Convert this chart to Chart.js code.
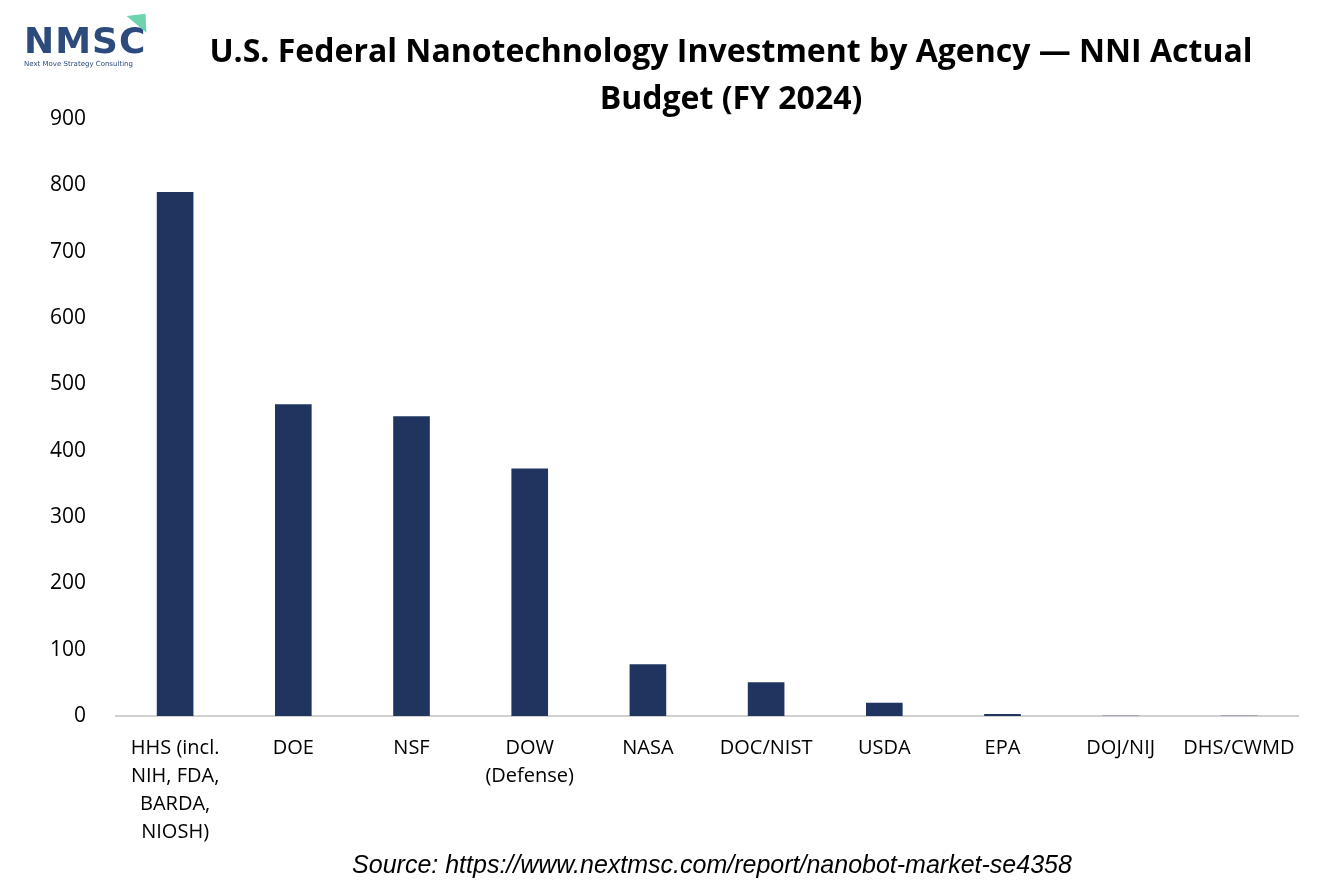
<!DOCTYPE html>
<html>
<head>
<meta charset="utf-8">
<script src="https://cdn.jsdelivr.net/npm/chart.js@4"></script>
<style>
  body { margin: 0; background: #fff; }
  #wrap { position: relative; width: 1334px; height: 889px; }
  #logo { position: absolute; left: 24px; top: 22px; font-family: "DejaVu Sans", sans-serif; }
  #logo .big { font-size: 36px; font-weight: bold; color: #2c4a7c; letter-spacing: 1px; line-height: 38px; }
  #logo .small { font-size: 7px; color: #2c4a7c; }
  #logo .tri { position: absolute; left: 104px; top: -10px; width: 0; height: 0;
    border-left: 13px solid transparent; border-right: 13px solid transparent; border-bottom: 14px solid #6fd3ae;
    transform: rotate(40deg); }
  #title { position: absolute; left: 190px; width: 1082px; top: 26px; text-align: center;
    font-family: "Open Sans", sans-serif; font-weight: bold; font-size: 32px; line-height: 47px; color: #000; }
  #source { position: absolute; left: 0; width: 1424px; top: 850px; text-align: center;
    font-family: "Liberation Sans", Arial, sans-serif; font-style: italic; font-size: 25px; color: #000; }
</style>
</head>
<body>
<div id="wrap">
  <canvas id="budgetChart" width="1334" height="889"></canvas>
  <div id="logo"><div class="tri"></div><div class="big">NMSC</div><div class="small">Next Move Strategy Consulting</div></div>
  <div id="title">U.S. Federal Nanotechnology Investment by Agency — NNI Actual<br>Budget (FY 2024)</div>
  <div id="source">Source: https://www.nextmsc.com/report/nanobot-market-se4358</div>
</div>
<script>
"use strict";

const agencies = [
  ["HHS (incl.", "NIH, FDA,", "BARDA,", "NIOSH)"],
  "DOE",
  "NSF",
  ["DOW", "(Defense)"],
  "NASA",
  "DOC/NIST",
  "USDA",
  "EPA",
  "DOJ/NIJ",
  "DHS/CWMD"
];
const budget = [790, 470, 452, 373, 78, 51, 20, 3, 0.4, 0.2];
const yTicks = [0, 100, 200, 300, 400, 500, 600, 700, 800, 900];

const ctx = document.getElementById("budgetChart").getContext("2d");

new Chart(ctx, {
  type: "bar",
  data: {
    labels: agencies,
    datasets: [{
      data: budget,
      backgroundColor: "#1f3560",
      barPercentage: 0.62,
      categoryPercentage: 0.5
    }]
  },
  options: {
    responsive: false,
    animation: false,
    layout: { padding: { left: 28, right: 36, top: 119, bottom: 33 } },
    plugins: {
      legend: { display: false },
      tooltip: { enabled: false },
      title: { display: false }
    },
    scales: {
      x: {
        grid: { display: false },
        border: { color: "#d0d0d0", width: 2 },
        ticks: { color: "#000", font: { family: "Open Sans", size: 20, lineHeight: 1.4 }, maxRotation: 0, autoSkip: false, padding: 10 }
      },
      y: {
        min: 0,
        max: 900,
        afterBuildTicks: (axis) => { axis.ticks = yTicks.map(v => ({ value: v })); },
        grid: { display: false },
        border: { display: false },
        ticks: { color: "#000", font: { family: "Open Sans", size: 21 }, padding: 22 }
      }
    }
  }
});
</script>
</body>
</html>
